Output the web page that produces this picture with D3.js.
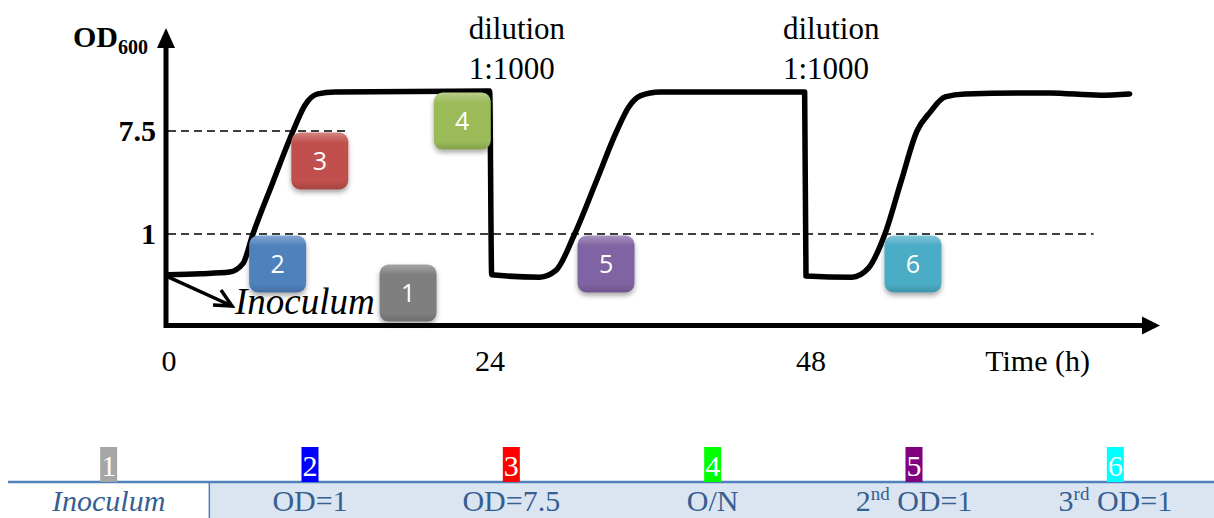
<!DOCTYPE html>
<html>
<head>
  <meta charset="utf-8">
  <script src="https://d3js.org/d3.v7.min.js"></script>
  <style>
    body { margin: 0; background: #fff; }
    svg text { font-family: "Liberation Serif", "Times New Roman", serif; }
  </style>
</head>
<body>
<div id="my_dataviz"></div>
<script>
// growth curve (time in h, OD600)
const curveTime = [0, 2.4, 4.6, 5.6, 6.35, 7.85, 9.35, 10.25, 11.2, 12.5, 24.05,
                   24.2, 27.8, 29.0, 30.4, 32.0, 33.55, 34.45, 35.3, 36.8, 47.6,
                   47.7, 51.15, 52.35, 53.6, 54.8, 56.0, 57.0, 58.1, 59.6, 65.9, 69.7, 71.9];
const curveOD = [0.45, 0.46, 0.475, 0.56, 1.0, 2.77, 7.5, 12.5, 15.5, 16.1, 16.4,
                 0.45, 0.43, 0.49, 1.0, 2.77, 7.5, 12.0, 14.9, 16.1, 16.1,
                 0.44, 0.43, 0.51, 1.0, 2.77, 7.5, 10.9, 14.6, 15.5, 15.8, 15.1, 15.5];

const timeTicks = [0, 24, 48];
const odTicks = [7.5, 1];
const odTickLabels = ["7.5", "1"];
const thresholdEnd = [13.5, 69.2];      // where each dashed guide stops (h)
const dilutionTimes = [24.2, 47.7];

// numbered sampling points on the plot
const sampleLabels = ["1", "2", "3", "4", "5", "6"];
const sampleTime = [17.95, 8.2, 11.35, 22.0, 32.75, 55.7];
const sampleOD = [0.315, 0.556, 4.17, 9.1, 0.556, 0.556];
const sampleColors = ["#7f7f7f", "#4f81bd", "#c0504d", "#9bbb59", "#8064a2", "#4bacc6"];

// legend table below
const tableColors = ["#a6a6a6", "#0000ff", "#ff0000", "#00ff00", "#800080", "#00ffff"];
const tableText = [["Inoculum", ""], ["OD=1", ""], ["OD=7.5", ""], ["O/N", ""], ["2", "nd"], ["3", "rd"]];

const W = 1214, H = 518;
const svg = d3.select("#my_dataviz").append("svg")
  .attr("width", W).attr("height", H);

const x = d3.scaleLinear().domain([0, 48]).range([168, 810]);
const y = d3.scaleLog().domain([1, 7.5]).range([234, 131]);

const defs = svg.append("defs");
const shadow = defs.append("filter").attr("id", "shadow")
  .attr("x", "-30%").attr("y", "-30%").attr("width", "160%").attr("height", "170%");
shadow.append("feDropShadow").attr("dx", 0).attr("dy", 3).attr("stdDeviation", 2.5)
  .attr("flood-color", "#000").attr("flood-opacity", 0.35);

sampleColors.forEach(function(c, i) {
  const g = defs.append("linearGradient").attr("id", "grad" + i)
    .attr("x1", 0).attr("y1", 0).attr("x2", 0).attr("y2", 1);
  g.append("stop").attr("offset", "0%").attr("stop-color", d3.interpolateRgb(c, "#fff")(0.3));
  g.append("stop").attr("offset", "18%").attr("stop-color", c);
  g.append("stop").attr("offset", "85%").attr("stop-color", c);
  g.append("stop").attr("offset", "100%").attr("stop-color", d3.interpolateRgb(c, "#000")(0.15));
});

// dashed guides
svg.selectAll(".guide")
  .data(odTicks)
  .join("line")
    .attr("class", "guide")
    .attr("x1", x(0)).attr("x2", (d, i) => x(thresholdEnd[i]))
    .attr("y1", d => y(d)).attr("y2", d => y(d))
    .attr("stroke", "#000").attr("stroke-width", 1.6)
    .attr("stroke-dasharray", "8,5");

// axes with arrow heads
const axisY = y(0.167);
svg.append("line")
  .attr("x1", x(0) - 2).attr("x2", 1145)
  .attr("y1", axisY).attr("y2", axisY)
  .attr("stroke", "#000").attr("stroke-width", 5);
svg.append("path")
  .attr("d", `M1142,${axisY - 9}L1160,${axisY}L1142,${axisY + 9}Z`)
  .attr("fill", "#000");
svg.append("line")
  .attr("x1", x(0) - 2).attr("x2", x(0) - 2)
  .attr("y1", axisY + 2.5).attr("y2", 45)
  .attr("stroke", "#000").attr("stroke-width", 5);
svg.append("path")
  .attr("d", `M${x(0) - 11},48L${x(0) - 2},28L${x(0) + 7},48Z`)
  .attr("fill", "#000");

// growth curve
const points = curveTime.map((t, i) => [t, curveOD[i]]);
svg.append("path")
  .datum(points)
  .attr("d", d3.line().x(d => x(d[0])).y(d => y(d[1])).curve(d3.curveMonotoneX))
  .attr("fill", "none")
  .attr("stroke", "#000")
  .attr("stroke-width", 5.5)
  .attr("stroke-linejoin", "round")
  .attr("stroke-linecap", "round");

// axis labels
svg.selectAll(".xtick")
  .data(timeTicks)
  .join("text")
    .attr("class", "xtick")
    .attr("x", d => x(d) + 1)
    .attr("y", 371)
    .attr("text-anchor", "middle")
    .attr("font-size", 30)
    .text(d => d);
svg.append("text")
  .attr("x", 1090).attr("y", 371)
  .attr("text-anchor", "end")
  .attr("font-size", 30)
  .text("Time (h)");

svg.selectAll(".ytick")
  .data(odTicks)
  .join("text")
    .attr("class", "ytick")
    .attr("x", 156)
    .attr("y", d => y(d) + 10)
    .attr("text-anchor", "end")
    .attr("font-size", 30)
    .attr("font-weight", "bold")
    .text((d, i) => odTickLabels[i]);

const odTitle = svg.append("text")
  .attr("x", 73).attr("y", 47)
  .attr("font-size", 30).attr("font-weight", "bold");
odTitle.append("tspan").text("OD");
odTitle.append("tspan").attr("font-size", 20).attr("dy", 7).text("600");

// dilution notes
dilutionTimes.forEach(function(t) {
  const tx = svg.append("text")
    .attr("x", x(t) - 23).attr("y", 39)
    .attr("font-size", 31);
  tx.append("tspan").text("dilution");
  tx.append("tspan").attr("x", x(t) - 23).attr("dy", 40).text("1:1000");
});

// inoculum arrow
const ax0 = x(0), ay0 = y(0.45) + 2, ax1 = 232, ay1 = 306;
svg.append("path")
  .attr("d", `M${ax0},${ay0}L${ax1},${ay1}M${ax1 - 19},${ay1 - 1}L${ax1},${ay1}L${ax1 - 11},${ay1 - 16}`)
  .attr("fill", "none").attr("stroke", "#000").attr("stroke-width", 3.5)
  .attr("stroke-linejoin", "miter");
svg.append("text")
  .attr("x", 235).attr("y", 314)
  .attr("font-size", 37).attr("font-style", "italic")
  .text("Inoculum");

// numbered boxes
const box = 57;
const boxes = svg.selectAll(".sample")
  .data(sampleLabels)
  .join("g")
    .attr("class", "sample")
    .attr("transform", (d, i) => `translate(${x(sampleTime[i])},${y(sampleOD[i])})`);
boxes.append("rect")
  .attr("x", -box / 2).attr("y", -box / 2)
  .attr("width", box).attr("height", box)
  .attr("rx", 9)
  .attr("fill", (d, i) => `url(#grad${i})`)
  .attr("filter", "url(#shadow)");
boxes.append("text")
  .attr("text-anchor", "middle")
  .attr("y", 9)
  .attr("fill", "#fff")
  .attr("font-size", 25)
  .style("font-family", "'Open Sans', sans-serif")
  .text(d => d);

// legend table
const col = d3.scaleBand().domain(sampleLabels).range([8, 1216]);
const lineY = 482;
svg.append("rect")
  .attr("x", col("2")).attr("y", lineY)
  .attr("width", W - col("2")).attr("height", H - lineY)
  .attr("fill", "#dbe5f1");
svg.append("line")
  .attr("x1", col("1")).attr("x2", W)
  .attr("y1", lineY).attr("y2", lineY)
  .attr("stroke", "#4f81bd").attr("stroke-width", 2.5);
svg.append("line")
  .attr("x1", col("2")).attr("x2", col("2"))
  .attr("y1", lineY).attr("y2", H)
  .attr("stroke", "#4f81bd").attr("stroke-width", 1.5);

const cells = svg.selectAll(".cell")
  .data(sampleLabels)
  .join("g")
    .attr("class", "cell")
    .attr("transform", d => `translate(${col(d) + col.bandwidth() / 2},0)`);
cells.append("rect")
  .attr("x", -8.5).attr("y", 447)
  .attr("width", 17).attr("height", lineY - 447)
  .attr("fill", (d, i) => tableColors[i]);
cells.append("text")
  .attr("text-anchor", "middle")
  .attr("y", 476)
  .attr("fill", "#fff")
  .attr("font-size", 30)
  .text(d => d);
const labels = cells.append("text")
  .attr("text-anchor", "middle")
  .attr("y", 511)
  .attr("fill", "#365f91")
  .attr("font-size", 30)
  .attr("font-style", (d, i) => i === 0 ? "italic" : "normal");
labels.each(function(d, i) {
  const t = d3.select(this);
  const parts = tableText[i];
  if (parts[1] === "") {
    t.text(parts[0]);
  } else {
    t.append("tspan").text(parts[0]);
    t.append("tspan").attr("font-size", 19).attr("dy", -11).text(parts[1]);
    t.append("tspan").attr("dy", 11).text(" OD=1");
  }
});
</script>
</body>
</html>
